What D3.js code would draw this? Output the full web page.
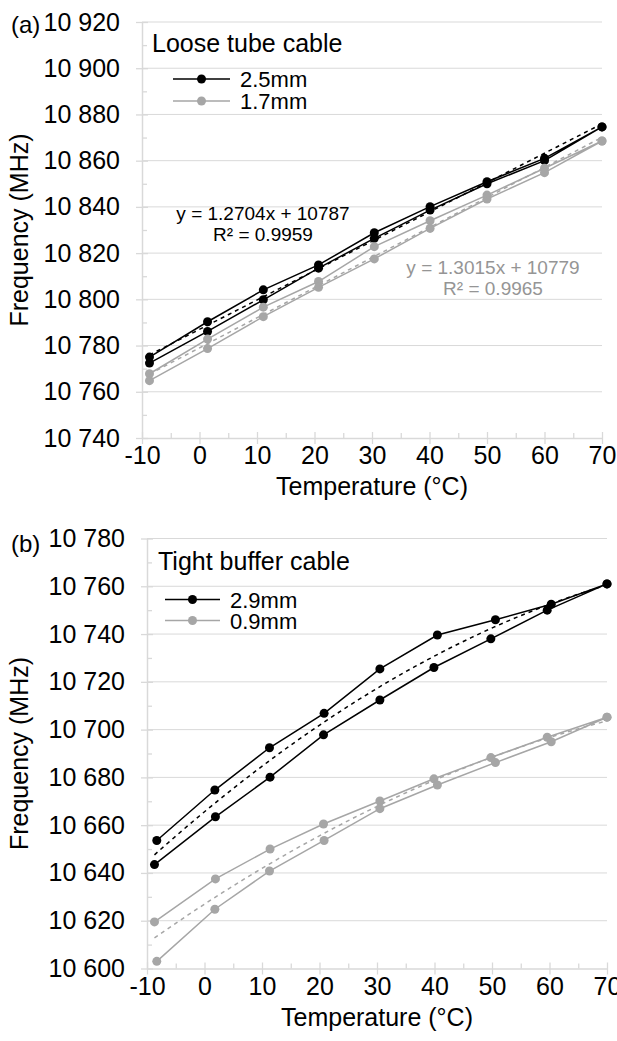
<!DOCTYPE html>
<html>
<head>
<meta charset="utf-8">
<script src="https://cdn.jsdelivr.net/npm/d3@7"></script>
<style>
  body { margin: 0; background: #fff; }
  svg { display: block; font-family: "Liberation Sans", Arial, sans-serif; }
</style>
</head>
<body>
<div id="chart"></div>
<script>
// ---- data ----
const xTicks = [-10, 0, 10, 20, 30, 40, 50, 60, 70];
const xMinorTicks = [-5, 5, 15, 25, 35, 45, 55, 65];

// (a) loose tube cable: two sweeps per cable
const looseTemps = [-8.7, 1.4, 11.1, 20.7, 30.4, 40.1, 50, 60, 70];
const loose25Up = [10775, 10790.3, 10804.1, 10814.9, 10828.8, 10840.1, 10850.9, 10861, 10874.6];
const loose25Down = [10772.4, 10786.1, 10799.8, 10813.5, 10826.4, 10838.6, 10850, 10860, 10874.6];
const loose17Up = [10767.8, 10782.8, 10796.6, 10807.7, 10822.8, 10834, 10845.1, 10856.7, 10868.5];
const loose17Down = [10764.8, 10778.7, 10792.5, 10805.2, 10817.5, 10830.7, 10843.4, 10854.8, 10868.5];
const looseYTicks = [10740, 10760, 10780, 10800, 10820, 10840, 10860, 10880, 10900, 10920];
const looseYMinor = [10750, 10770, 10790, 10810, 10830, 10850, 10870, 10890, 10910];
// trend lines printed on the chart
const fit25 = [1.2704, 10787];
const fit17 = [1.3015, 10779];

// (b) tight buffer cable
const tightTempsA = [-8.3, 1.8, 11.3, 20.8, 30.5, 40.5, 50.6, 60.3, 70];
const tightTempsB = [-8.7, 1.9, 11.4, 20.7, 30.5, 39.9, 49.8, 59.6, 70];
const tight29A = [10653.6, 10674.7, 10692.4, 10706.8, 10725.4, 10739.6, 10746, 10752.5, 10761];
const tight29B = [10643.5, 10663.5, 10680.1, 10697.8, 10712.4, 10726, 10738, 10750, 10761];
const tight09A = [10603, 10624.8, 10640.8, 10653.6, 10666.9, 10676.8, 10686.2, 10694.9, 10705.2];
const tight09B = [10619.5, 10637.5, 10650, 10660.5, 10670.1, 10679.4, 10688.3, 10696.8, 10705.2];
const tightYTicks = [10600, 10620, 10640, 10660, 10680, 10700, 10720, 10740, 10760, 10780];
const tightYMinor = [10610, 10630, 10650, 10670, 10690, 10710, 10730, 10750, 10770];

const BLACK = "#000";
const GREY = "#a6a6a6";
const GRID = "#d9d9d9";
const FS = 25; // main font size

const width = 617;
const height = 1041;

const svg = d3.select("#chart").append("svg").attr("width", width).attr("height", height);

const fmt = d3.formatLocale({ decimal: ".", thousands: " ", grouping: [3], currency: ["", ""], minus: "-" }).format(",d");

// build a polyline: first sweep forward, second sweep back
function loop(tA, vA, tB, vB) {
  const a = tA.map((t, i) => ({ t, v: vA[i] }));
  const b = tB.map((t, i) => ({ t, v: vB[i] })).reverse();
  return a.concat(b);
}

// least squares polynomial fit (like an Excel trendline)
function polyFit(pts, order) {
  const n = order + 1;
  const A = d3.range(n).map(() => d3.range(n + 1).map(() => 0));
  pts.forEach(p => {
    for (let i = 0; i < n; i++) {
      for (let j = 0; j < n; j++) A[i][j] += Math.pow(p.t, i + j);
      A[i][n] += p.v * Math.pow(p.t, i);
    }
  });
  for (let i = 0; i < n; i++) {
    for (let k = i + 1; k < n; k++) {
      const f = A[k][i] / A[i][i];
      for (let j = i; j <= n; j++) A[k][j] -= f * A[i][j];
    }
  }
  const c = new Array(n).fill(0);
  for (let i = n - 1; i >= 0; i--) {
    let s = A[i][n];
    for (let j = i + 1; j < n; j++) s -= A[i][j] * c[j];
    c[i] = s / A[i][i];
  }
  return t => c.reduce((acc, ci, i) => acc + ci * Math.pow(t, i), 0);
}

function drawPanel(p) {
  const x = d3.scaleLinear().domain([-10, 70]).range([p.left, p.right]);
  const y = d3.scaleLinear().domain([p.yTicks[0], p.yTicks[p.yTicks.length - 1]]).range([p.bottom, p.top]);
  const g = svg.append("g");

  // gridlines
  g.append("g").selectAll("line")
    .data(p.yTicks.slice(1))
    .join("line")
    .attr("x1", p.left).attr("x2", p.right)
    .attr("y1", d => y(d)).attr("y2", d => y(d))
    .attr("stroke", GRID).attr("stroke-width", 1);

  // y axis
  const yAxis = g.append("g").attr("transform", `translate(${p.left},0)`)
    .call(d3.axisLeft(y).tickValues(p.yTicks).tickFormat(fmt).tickSizeInner(6).tickSizeOuter(0).tickPadding(16));
  yAxis.select(".domain").attr("stroke", GRID).attr("stroke-width", 1.5);
  yAxis.selectAll(".tick line").attr("x1", 6).attr("stroke", GRID).attr("stroke-width", 1.3);
  yAxis.selectAll(".tick text").attr("font-size", FS).attr("fill", "#000")
    .attr("font-family", "Liberation Sans, Arial, sans-serif");
  const yMinor = g.append("g").attr("transform", `translate(${p.left},0)`)
    .call(d3.axisLeft(y).tickValues(p.yMinor).tickFormat("").tickSizeInner(-5).tickSizeOuter(0));
  yMinor.select(".domain").remove();
  yMinor.selectAll(".tick line").attr("stroke", GRID).attr("stroke-width", 1.3);

  // x axis
  const xAxis = g.append("g").attr("transform", `translate(0,${p.bottom})`)
    .call(d3.axisBottom(x).tickValues(xTicks).tickFormat(fmt).tickSizeInner(6).tickSizeOuter(0));
  xAxis.select(".domain").attr("stroke", GRID).attr("stroke-width", 1.5);
  xAxis.selectAll(".tick line").attr("y1", -6).attr("stroke", GRID).attr("stroke-width", 1.3);
  xAxis.selectAll(".tick text").attr("font-size", FS).attr("fill", "#000")
    .attr("font-family", "Liberation Sans, Arial, sans-serif")
    .attr("y", 26).attr("dy", null);
  const xMinor = g.append("g").attr("transform", `translate(0,${p.bottom})`)
    .call(d3.axisBottom(x).tickValues(xMinorTicks).tickFormat("").tickSizeInner(-5).tickSizeOuter(0));
  xMinor.select(".domain").remove();
  xMinor.selectAll(".tick line").attr("stroke", GRID).attr("stroke-width", 1.3);

  // axis titles
  g.append("text")
    .attr("x", (p.left + p.right) / 2).attr("y", p.bottom + 57)
    .attr("text-anchor", "middle").attr("font-size", FS)
    .text("Temperature (°C)");
  g.append("text")
    .attr("transform", `translate(28,${(p.top + p.bottom) / 2}) rotate(-90)`)
    .attr("text-anchor", "middle").attr("font-size", FS)
    .text("Frequency (MHz)");
  g.append("text").attr("x", 11).attr("y", p.tagY).attr("font-size", 24).text(p.tag);

  // series
  const line = d3.line().x(d => x(d.t)).y(d => y(d.v));
  p.series.forEach(s => {
    g.append("path").datum(s.pts)
      .attr("d", line).attr("fill", "none")
      .attr("stroke", s.color).attr("stroke-width", 1.5);
    g.append("g").selectAll("circle")
      .data(s.pts).join("circle")
      .attr("cx", d => x(d.t)).attr("cy", d => y(d.v)).attr("r", 4.5)
      .attr("fill", s.color);
  });

  // trend lines
  p.series.forEach(s => {
    const t0 = d3.min(s.pts, d => d.t), t1 = d3.max(s.pts, d => d.t);
    const ts = d3.range(0, 41).map(i => t0 + (t1 - t0) * i / 40);
    g.append("path").datum(ts)
      .attr("d", d3.line().x(t => x(t)).y(t => y(s.fit(t))))
      .attr("fill", "none").attr("stroke", s.color)
      .attr("stroke-width", 1.5).attr("stroke-dasharray", "4,4");
  });

  // legend
  const lg = p.legend;
  g.append("text").attr("x", lg.titleX).attr("y", lg.titleY).attr("font-size", FS).text(p.title);
  p.series.forEach((s, i) => {
    const yy = lg.y0 + i * lg.dy;
    g.append("line").attr("x1", lg.x1).attr("x2", lg.x2).attr("y1", yy).attr("y2", yy)
      .attr("stroke", s.color).attr("stroke-width", 1.5);
    g.append("circle").attr("cx", (lg.x1 + lg.x2) / 2).attr("cy", yy).attr("r", 4.5).attr("fill", s.color);
    g.append("text").attr("x", lg.x2 + 10).attr("y", yy + 8).attr("font-size", 22).text(s.name);
  });

  // equations
  (p.equations || []).forEach(e => {
    const t = g.append("text").attr("text-anchor", "middle").attr("font-size", 19).attr("fill", e.color);
    t.append("tspan").attr("x", e.x).attr("y", e.y).text(e.lines[0]);
    t.append("tspan").attr("x", e.x).attr("y", e.y + 21).text(e.lines[1]);
  });
}

const lin = c => t => c[0] * t + c[1];

const l25 = loop(looseTemps, loose25Up, looseTemps, loose25Down);
const l17 = loop(looseTemps, loose17Up, looseTemps, loose17Down);
drawPanel({
  left: 142, right: 602, top: 22, bottom: 438,
  yTicks: looseYTicks, yMinor: looseYMinor,
  tag: "(a)", tagY: 33,
  title: "Loose tube cable",
  legend: { titleX: 152, titleY: 52, x1: 173, x2: 230, y0: 79, dy: 22 },
  series: [
    { name: "2.5mm", color: BLACK, pts: l25, fit: lin(fit25) },
    { name: "1.7mm", color: GREY, pts: l17, fit: lin(fit17) }
  ],
  equations: [
    { x: 263, y: 220, color: "#000", lines: ["y = " + fit25[0] + "x + " + fit25[1], "R² = 0.9959"] },
    { x: 493, y: 274, color: "#959595", lines: ["y = " + fit17[0] + "x + " + fit17[1], "R² = 0.9965"] }
  ]
});

const t29 = loop(tightTempsA, tight29A, tightTempsB, tight29B);
const t09 = loop(tightTempsB, tight09B, tightTempsA, tight09A);
drawPanel({
  left: 147, right: 607, top: 538.5, bottom: 968.5,
  yTicks: tightYTicks, yMinor: tightYMinor,
  tag: "(b)", tagY: 552,
  title: "Tight buffer cable",
  legend: { titleX: 158, titleY: 570, x1: 165, x2: 220, y0: 599.5, dy: 21 },
  series: [
    { name: "2.9mm", color: BLACK, pts: t29, fit: polyFit(t29, 2) },
    { name: "0.9mm", color: GREY, pts: t09, fit: polyFit(t09, 2) }
  ]
});
</script>
</body>
</html>
